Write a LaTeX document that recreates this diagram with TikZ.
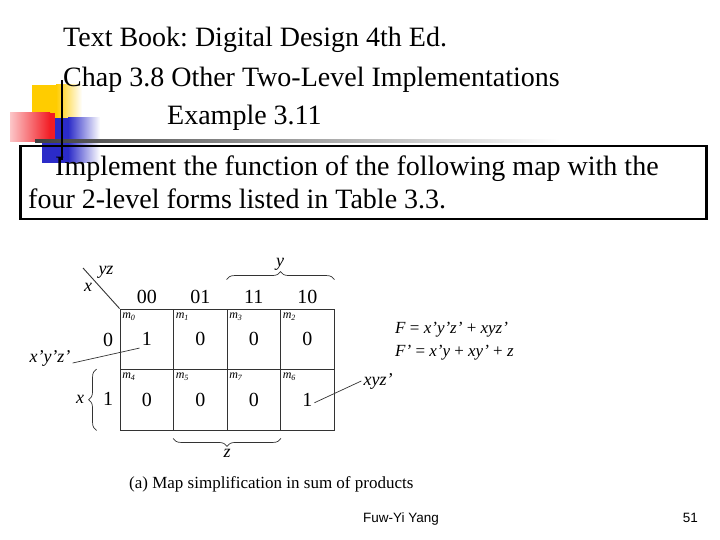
\documentclass[tikz,border=0pt]{standalone}
\usepackage{fontspec}
\setmainfont{Liberation Serif}
\setsansfont{Liberation Sans}
\usetikzlibrary{positioning,decorations.pathreplacing}
\definecolor{padyellow}{HTML}{FFCC00}
\definecolor{padred}{HTML}{F21C24}
\definecolor{padblue}{HTML}{2B2BC8}
\definecolor{gridgray}{HTML}{333333}
\newcommand\fsz[1]{\fontsize{#1}{#1}\selectfont}
\frenchspacing

\begin{document}
\begin{tikzpicture}[x=1pt,y=-1pt,
  txt/.style={anchor=base west,inner sep=0pt,font=\fsz{28}},
  cell/.style={draw=gridgray,line width=0.9pt,minimum width=53.5pt,minimum height=60.5pt,inner sep=0pt},
  mlbl/.style={anchor=north west,inner sep=1pt,font=\fsz{12}\itshape},
  val/.style={inner sep=2pt,font=\fsz{20}},
  lbl/.style={inner sep=2pt,font=\fsz{18}\itshape},
  brace/.style={draw=gridgray,line width=0.7pt,decorate,decoration={brace,amplitude=8pt}}]
\useasboundingbox (0,0) rectangle (720,540);
% slide decoration
\fill[padyellow] (32,85) rectangle (56,130);
\shade[left color=padyellow,right color=white] (56,85) rectangle (82,130);
\fill[padblue] (42,118) rectangle (68,163);
\shade[left color=padblue,right color=white] (68,118) rectangle (100,163);
\shade[left color=padred!25,right color=padred] (10,113) rectangle (50,142);
\fill[padred] (50,113) rectangle (55,142);
\shade[left color=black!75,right color=white] (35,139.5) rectangle (560,142.5);
\draw[line width=2pt] (62,80) -- (62,160);
% titles
\node[txt] (book) at (63,47) {Text Book: Digital Design 4th Ed.};
\node[txt] (chap) at (63,87) {Chap 3.8 Other Two-Level Implementations};
\node[txt] (ex) at (167,125) {Example 3.11};
\node[draw,line width=2.5pt,anchor=north west,minimum width=686pt,minimum height=73pt] (task) at (19,145) {};
\node[txt] (line1) at (55,176) {Implement the function of the following map with the};
\node[txt] (line2) at (28,209) {four 2-level forms listed in Table 3.3.};
% the map
\foreach \m/\v/\c/\r in {0/1/0/0,1/0/1/0,3/0/2/0,2/0/3/0,4/0/0/1,5/0/1/1,7/0/2/1,6/1/3/1} {
  \node[cell] (c\m) at ({146.75+53.5*\c},{339.25+60.5*\r}) {};
  \node[mlbl] (m\m) at ([xshift=1.5pt,yshift=-3pt]c\m.north west) {m\textsubscript{\m}};
  \node[val] (v\m) at (c\m) {\v};
}
\foreach \h [count=\c from 0] in {00,01,11,10}
  \node[val] (h\h) at ({146.75+53.5*\c},297) {\h};
\node[val] (r0) at (108,340) {0};
\node[val] (r1) at (108,399) {1};
\coordinate (corner) at (83,268);
\draw[gridgray,line width=0.9pt] (c0.north west) -- (corner);
\node[lbl] (yz) at (106,272) {yz};
\node[lbl] (xx) at (88,287) {x};
\draw[brace] ([yshift=29pt]c3.north west) -- ([yshift=29pt]c2.north east);
\node[lbl] (ylbl) at (280,264) {y};
\draw[brace] ([yshift=-8pt]c7.south east) -- ([yshift=-8pt]c5.south west);
\node[lbl] (zlbl) at (227,453) {z};
\draw[brace] ([xshift=-23pt]c4.south west) -- ([xshift=-23pt]c4.north west);
\node[lbl] (xlbl) at (80,399) {x};
\node[lbl] (p0) at (50,358) {x'y'z'};
\draw[gridgray,line width=0.7pt] ([yshift=-5pt]p0.east) -- (v0.south west);
\node[lbl] (p6) at (378,381) {xyz'};
\draw[gridgray,line width=0.7pt] (p6.west) -- ([yshift=-3pt]v6.east);
\node[anchor=base west,inner sep=0pt,font=\fsz{17}] (fsum) at (395,333) {\textit{F} = \textit{x'y'z'} + \textit{xyz'}};
\node[anchor=base west,inner sep=0pt,font=\fsz{17}] (fnot) at (395,356) {\textit{F'} = \textit{x'y} + \textit{xy'} + \textit{z}};
\node[anchor=base west,inner sep=0pt,font=\fsz{17}] (cap) at (129,488) {(a) Map simplification in sum of products};
% footer
\node[anchor=base west,inner sep=0pt,font=\sffamily\fsz{13.5}] (author) at (363,522) {Fuw-Yi Yang};
\node[anchor=base east,inner sep=0pt,font=\sffamily\fsz{13.5}] (page) at (698,522) {51};
\end{tikzpicture}
\end{document}
